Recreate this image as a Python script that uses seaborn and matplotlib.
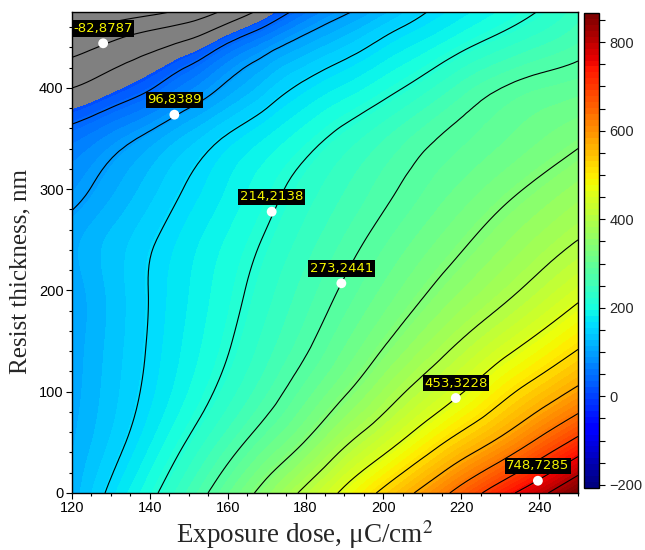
import numpy as np
import pandas as pd
import matplotlib
matplotlib.use("Agg")
import matplotlib.pyplot as plt
import matplotlib.tri as mtri
import seaborn as sns
from matplotlib.colors import Normalize, ListedColormap
from matplotlib.cm import ScalarMappable
from matplotlib.ticker import MultipleLocator

# ---------------- data ----------------
dose = [120, 130, 140, 150, 160, 170, 180, 190, 200, 210, 220, 230, 240, 250]
thickness = [0, 50, 100, 150, 200, 250, 300, 350, 400, 450, 475]

z_0   = [119, 163.2, 206.6, 252.3, 300.4, 351.1, 405.5, 464.1, 524.2, 585.7, 652.5, 725.0, 793.3, 870]
z_50  = [113, 143.8, 179.8, 219.6, 258.4, 297.5, 337, 387.4, 433.4, 483.6, 534.7, 584.7, 644.7, 708.6]
z_100 = [108, 135.5, 164, 195.6, 227.6, 260.4, 294.9, 330.7, 371, 411.4, 451, 495.7, 539, 584.2]
z_150 = [106, 132.5, 159.1, 186, 212.9, 241, 269.3, 299.7, 330.7, 363.1, 395.8, 429.5, 464.3, 501.6]
z_200 = [106, 131.9, 157.7, 181.5, 205.4, 229.8, 254.8, 279.9, 305.3, 330.7, 355.9, 381.1, 409.1, 440.5]
z_250 = [110, 131.5, 153, 175, 197, 219, 241.3, 263.7, 285.8, 307.5, 329.1, 350.9, 372.6, 394.4]
z_300 = [86.3, 111, 135.7, 160.1, 183.1, 206, 227.6, 248.1, 268.5, 287.6, 305.8, 324.1, 342.5, 361.4]
z_350 = [55.6, 80.4, 106.1, 133.9, 160.7, 182.7, 204.7, 226.3, 247.5, 268.7, 285.4, 299.9, 314.4, 328.9]
z_400 = [-21.7, 6.5, 34.7, 69.8, 104.9, 136.9, 164.4, 184.8, 205.1, 228.1, 254.3, 275.0, 288.0, 296]
z_450 = [-129, -93, -59.8, -28.1, 22.8, 65.8, 102.1, 129.4, 156.7, 178.3, 199.9, 220.7, 239.3, 257.9]
z_475 = [-200, -177.9, -155.8, -122.7, -65, 0.2, 57.6, 92.3, 123.3, 153.7, 175.6, 196.6, 217.6, 242]

point_dose = [128.0, 146.3, 171.3, 189.2, 218.6, 239.7]
point_thick = [444.1, 373.6, 277.8, 207.1, 93.8, 12.1]
point_labels = ["-82,8787", "96,8389", "214,2138", "273,2441", "453,3228", "748,7285"]

cbar_ticks = [-200, 0, 200, 400, 600, 800]

# ---------------- figure ----------------
sns.set_theme(style="ticks")
plt.rcParams["font.family"] = ["Liberation Sans", "DejaVu Sans"]
plt.rcParams["mathtext.fontset"] = "stix"
plt.rcParams["contour.negative_linestyle"] = "solid"

grid = pd.DataFrame([z_0, z_50, z_100, z_150, z_200, z_250, z_300, z_350,
                     z_400, z_450, z_475], index=thickness, columns=dose)
X, Y = np.meshgrid(grid.columns.values.astype(float), grid.index.values.astype(float))
Z = grid.values.astype(float)

# smooth the read grid for drawing with matplotlib's own triangulation tools
tri = mtri.Triangulation(X.ravel(), Y.ravel())
interp = mtri.CubicTriInterpolator(tri, Z.ravel(), kind="min_E")
refiner = mtri.UniformTriRefiner(tri)
tri_r, z_r = refiner.refine_field(Z.ravel(), triinterpolator=interp, subdiv=3)

fig = plt.figure(figsize=(6.45, 5.5), dpi=100)
ax = fig.add_axes([72 / 645, (550 - 493) / 550, 506 / 645, 481 / 550])

vmin, vmax = -207, 866
cmap = ListedColormap(plt.get_cmap("jet")(np.linspace(0, 1, 80)))
norm = Normalize(vmin=vmin, vmax=vmax)

fill_levels = np.linspace(vmin, vmax, 81)
ax.tricontourf(tri_r, z_r, levels=fill_levels, cmap=cmap, norm=norm, extend="both")
ax.tricontourf(tri_r, z_r, levels=[-1000, 14], colors=["#808080"])
line_levels = np.linspace(-200, 870, 19)
ax.tricontour(tri_r, z_r, levels=line_levels, colors="black", linewidths=0.8)

pts = pd.DataFrame({"dose": point_dose, "thick": point_thick})
sns.scatterplot(data=pts, x="dose", y="thick", ax=ax, color="white",
                s=50, edgecolor="none", zorder=5, legend=False)
for xd, yd, lab in zip(point_dose, point_thick, point_labels):
    ax.annotate(lab, (xd, yd), xytext=(0, 6), textcoords="offset points",
                ha="center", va="bottom", color="#F5F500", fontsize=9.5,
                family="DejaVu Sans",
                bbox=dict(boxstyle="square,pad=0.12", fc="black", ec="none"),
                zorder=6)

ax.set_xlim(120, 250)
ax.set_ylim(0, 475)
ax.xaxis.set_major_locator(MultipleLocator(20))
ax.xaxis.set_minor_locator(MultipleLocator(5))
ax.yaxis.set_major_locator(MultipleLocator(100))
ax.yaxis.set_minor_locator(MultipleLocator(20))
ax.tick_params(which="both", direction="out", color="black", labelsize=10.5,
               labelcolor="black", width=0.8)
ax.tick_params(which="major", length=4, pad=2)
ax.tick_params(which="minor", length=2.5)
for sp in ax.spines.values():
    sp.set_visible(True)
    sp.set_color("black")
    sp.set_linewidth(1)
ax.set_xlabel("")
ax.set_ylabel("")

fig.text(305 / 645, 7 / 550, r"Exposure dose, μC/cm$^{2}$", ha="center", va="baseline",
         fontsize=19.5, family="Liberation Serif")
fig.text(20 / 645, (550 - 272) / 550, "Resist thickness, nm", ha="center", va="center",
         rotation=90, fontsize=18, family="Liberation Serif")

cax = fig.add_axes([584 / 645, (550 - 488) / 550, 15 / 645, 475 / 550])
cb = fig.colorbar(ScalarMappable(norm=norm, cmap=cmap), cax=cax)
cb.set_ticks(cbar_ticks)
cb.ax.yaxis.set_minor_locator(MultipleLocator(50))
cb.ax.tick_params(which="both", direction="out", color="black", labelsize=10.5, width=0.8)
cb.ax.tick_params(which="major", length=4)
cb.ax.tick_params(which="minor", length=4)
cb.outline.set_edgecolor("black")
cb.outline.set_linewidth(1)

fig.savefig("out.png", dpi=100)
